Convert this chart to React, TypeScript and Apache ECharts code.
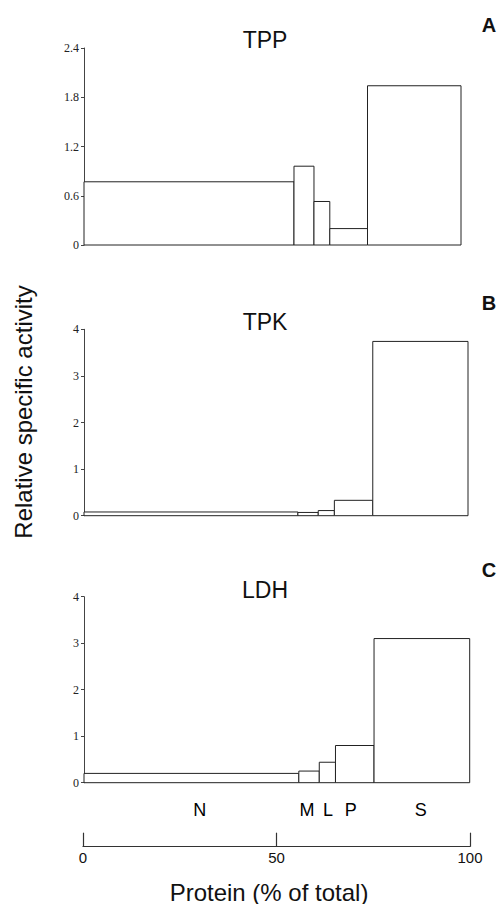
import React, { useEffect, useRef } from "react";
import * as echarts from "echarts";

const fractions = ["N", "M", "L", "P", "S"];
const proteinPct = [55.7, 5.3, 4.2, 10.0, 24.8];
const tppValues = [0.77, 0.96, 0.53, 0.2, 1.94];
const tpkValues = [0.08, 0.07, 0.11, 0.33, 3.74];
const ldhValues = [0.2, 0.25, 0.44, 0.8, 3.1];
const letterPos = [30.2, 57.9, 63.3, 69.2, 87.3];
const panelTitles = ["TPP", "TPK", "LDH"];
const panelLetters = ["A", "B", "C"];
const bottomTicks = [0, 50, 100];

const SANS = "Liberation Sans, Arial, sans-serif";
const SERIF = "Liberation Serif, Times New Roman, serif";

function buildBars(values: number[]) {
  let start = 0;
  return values.map((v, i) => {
    const x0 = start;
    const x1 = start + proteinPct[i];
    start = x1;
    return [x0, x1, v];
  });
}

export default function App() {
  const ref = useRef<HTMLDivElement>(null);
  useEffect(() => {
    document.body.style.margin = "0";
    if (!ref.current) return;
    const chart = echarts.init(ref.current, null, { renderer: "svg" });

    const grids = [
      { left: 84, top: 48, width: 377, height: 197 },
      { left: 84, top: 329.3, width: 384, height: 186.4 },
      { left: 84, top: 596.7, width: 385.7, height: 186 },
      { left: 83, top: 800, width: 387, height: 46.7 },
    ];
    const yCfg = [
      { max: 2.4, interval: 0.6 },
      { max: 4, interval: 1 },
      { max: 4, interval: 1 },
    ];
    const allValues = [tppValues, tpkValues, ldhValues];

    const xAxes: any[] = [0, 1, 2].map((i) => ({
      gridIndex: i,
      type: "value",
      min: 0,
      max: 100,
      show: false,
    }));
    xAxes.push({
      gridIndex: 3,
      type: "value",
      min: 0,
      max: 100,
      interval: 50,
      axisLine: { show: true, lineStyle: { color: "#333", width: 1.2 } },
      axisTick: { show: true, inside: true, length: 14, lineStyle: { color: "#333", width: 1.2 } },
      axisLabel: {
        margin: 3,
        fontSize: 15,
        color: "#111",
        fontFamily: SANS,
        customValues: bottomTicks,
      },
      splitLine: { show: false },
    });

    const yAxes: any[] = [0, 1, 2].map((i) => ({
      gridIndex: i,
      type: "value",
      min: 0,
      max: yCfg[i].max,
      interval: yCfg[i].interval,
      axisLine: { show: true, lineStyle: { color: "#444", width: 1 } },
      axisTick: { show: true, length: 3, lineStyle: { color: "#444" } },
      axisLabel: {
        margin: 5,
        fontSize: 12,
        color: "#222",
        fontFamily: SERIF,
        formatter: (v: number) => String(Math.round(v * 10) / 10),
      },
      splitLine: { show: false },
    }));
    yAxes.push({ gridIndex: 3, type: "value", min: 0, max: 1, show: false });

    const series: any[] = allValues.map((vals, i) => ({
      type: "custom",
      xAxisIndex: i,
      yAxisIndex: i,
      data: buildBars(vals),
      renderItem: (params: any, api: any) => {
        const x0 = api.value(0);
        const x1 = api.value(1);
        const v = api.value(2);
        const p0 = api.coord([x0, 0]);
        const p1 = api.coord([x1, v]);
        return {
          type: "rect",
          shape: { x: p0[0], y: p1[1], width: p1[0] - p0[0], height: p0[1] - p1[1] },
          style: { fill: "#fff", stroke: "#222", lineWidth: 1 },
        };
      },
      z: 3,
    }));

    series.push({
      type: "scatter",
      xAxisIndex: 3,
      yAxisIndex: 3,
      symbolSize: 0,
      itemStyle: { opacity: 1 },
      data: letterPos.map((x, i) => ({ value: [x, 0.786], name: fractions[i] })),
      label: {
        show: true,
        position: "inside",
        formatter: (p: any) => p.name,
        fontSize: 18,
        color: "#000",
        opacity: 1,
        textBorderWidth: 0,
        fontFamily: SANS,
      },
    });

    const titleY = [40, 322, 590];
    const letterY = [25, 303, 570];
    const graphic: any[] = [];
    panelTitles.forEach((t, i) => {
      graphic.push({
        type: "text",
        x: 265,
        y: titleY[i],
        style: {
          text: t,
          fontSize: 23,
          fontFamily: SANS,
          fill: "#111",
          align: "center",
          verticalAlign: "middle",
        },
      });
      graphic.push({
        type: "text",
        x: 489,
        y: letterY[i],
        style: {
          text: panelLetters[i],
          fontSize: 20,
          fontWeight: "bold",
          fontFamily: SANS,
          fill: "#111",
          align: "center",
          verticalAlign: "middle",
        },
      });
    });
    graphic.push({
      type: "text",
      x: 23,
      y: 412,
      rotation: Math.PI / 2,
      style: {
        text: "Relative specific activity",
        fontSize: 24,
        fontFamily: SANS,
        fill: "#111",
        align: "center",
        verticalAlign: "middle",
      },
    });
    graphic.push({
      type: "text",
      x: 269,
      y: 892,
      style: {
        text: "Protein (% of total)",
        fontSize: 24,
        fontFamily: SANS,
        fill: "#111",
        align: "center",
        verticalAlign: "middle",
      },
    });

    chart.setOption({
      animation: false,
      backgroundColor: "#fff",
      grid: grids,
      xAxis: xAxes,
      yAxis: yAxes,
      series,
      graphic,
    });
    return () => chart.dispose();
  }, []);
  return <div ref={ref} style={{ width: 499, height: 904 }} />;
}
